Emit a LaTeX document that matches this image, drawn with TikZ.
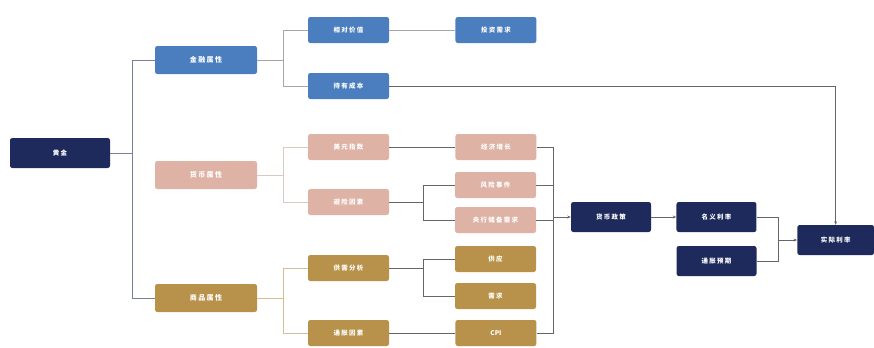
\documentclass[tikz,border=0pt]{standalone}
\usepackage{fontspec}
\newfontfamily\cjk[LetterSpace=20]{Noto Sans CJK SC}
\newfontfamily\latn{Noto Sans CJK SC}
\usepackage{tikz}
\usetikzlibrary{
    arrows.meta,
    positioning,
    calc
}
\usepackage{xcolor}
\definecolor{navy}{HTML}{1F2A5C}
\definecolor{finblue}{HTML}{4A7EBF}
\definecolor{monpink}{HTML}{DFB2A6}
\definecolor{comgold}{HTML}{B8924A}
\tikzstyle{box} = [
    rectangle,
    rounded corners=2pt,
    draw=none,
    text=white,
    text width=2.43cm,
    minimum height=0.78cm,
    text centered,
    inner sep=0pt,
    font=\cjk\fontsize{5.5}{6.5}\selectfont\bfseries
]
\tikzstyle{attr} = [
    box,
    text width=3.06cm,
    minimum height=0.84cm,
    font=\cjk\fontsize{6}{7}\selectfont\bfseries
]
\tikzstyle{finbox} = [box, fill=finblue]
\tikzstyle{monbox} = [box, fill=monpink]
\tikzstyle{combox} = [box, fill=comgold]
\tikzstyle{rate} = [box, fill=navy, text width=2.4cm, minimum height=0.9cm]
\tikzstyle{trunk} = [line width=0.8pt, draw=navy!60]
\tikzstyle{finline} = [line width=0.6pt, draw=gray!70]
\tikzstyle{monline} = [line width=0.6pt, draw=monpink!70!gray!60]
\tikzstyle{comline} = [line width=0.6pt, draw=comgold!60!white]
\tikzstyle{link} = [line width=0.6pt, draw=gray!80!black]
\tikzstyle{arrow} = [
    -{Stealth[length=3pt,width=2.5pt]},
    line width=0.6pt,
    draw=gray!80!black
]

\begin{document}
\begin{tikzpicture}
        \useasboundingbox (0,0) rectangle (26.22,-10.41);
        % root and attributes
        \node[rate, text width=3cm] (gold) at (1.8,-4.59) {黄金};
        \node[attr, fill=finblue] (fin) at (6.18,-1.8) {金融属性};
        \node[attr, fill=monpink] (mon) at (6.18,-5.25) {货币属性};
        \node[attr, fill=comgold] (com) at (6.18,-8.94) {商品属性};

        % bracket columns
        \coordinate (c0) at (3.96,0);
        \coordinate (c1) at (8.49,0);
        \coordinate (c2) at (12.69,0);
        \coordinate (c3) at (16.59,0);
        \coordinate (c4) at (23.34,0);

        \draw[trunk] (fin.west) -| (c0 |- com) -- (com.west);
        \draw[trunk] (gold.east) -- (gold -| c0);

        % financial branch
        \node[finbox] (relval) at (10.455,-0.9) {相对价值};
        \node[finbox, right=1.98cm of relval] (invest) {投资需求};
        \node[finbox] (hold) at (10.455,-2.58) {持有成本};

        \draw[finline] (fin.east) -- (fin -| c1);
        \draw[finline] (relval.west) -| (c1 |- hold) -- (hold.west);
        \draw[finline] (relval) -- (invest);

        % monetary branch
        \node[monbox] (usd) at (10.455,-4.41) {美元指数};
        \node[monbox, right=1.98cm of usd] (growth) {经济增长};
        \node[monbox] (haven) at (10.455,-6.06) {避险因素};
        \node[monbox] (risk) at (14.865,-5.55) {风险事件};
        \node[monbox] (reserve) at (14.865,-6.6) {央行储备需求};

        \draw[monline] (mon.east) -- (mon -| c1);
        \draw[monline] (usd.west) -| (c1 |- haven) -- (haven.west);
        \draw[link] (usd) -- (growth);
        \draw[link] (haven.east) -- (haven -| c2);
        \draw[link] (risk.west) -| (c2 |- reserve) -- (reserve.west);

        % commodity branch
        \node[combox] (supdem) at (10.455,-8.04) {供需分析};
        \node[combox] (infl) at (10.455,-9.99) {通胀因素};
        \node[combox] (supply) at (14.865,-7.77) {供应};
        \node[combox] (demand) at (14.865,-8.88) {需求};
        \node[combox, right=1.98cm of infl] (cpi) {\latn\bfseries CPI};

        \draw[comline] (com.east) -- (com -| c1);
        \draw[comline] (supdem.west) -| (c1 |- infl) -- (infl.west);
        \draw[link] (supdem.east) -- (supdem -| c2);
        \draw[link] (supply.west) -| (c2 |- demand) -- (demand.west);
        \draw[link] (infl) -- (cpi);

        % rates
        \node[rate] (policy) at (18.33,-6.51) {货币政策};
        \node[rate, right=0.75cm of policy] (nominal) {名义利率};
        \node[rate] (expect) at (21.495,-7.83) {通胀预期};
        \node[rate, text width=2.3cm] (real) at (25.07,-7.2) {实际利率};

        \draw[link] (growth.east) -| (c3 |- cpi) -- (cpi.east);
        \draw[link] (risk.east) -- (risk -| c3);
        \draw[link] (reserve.east) -- (reserve -| c3);
        \draw[arrow] (policy -| c3) -- (policy.west);
        \draw[arrow] (policy) -- (nominal);
        \draw[link] (nominal.east) -| (c4 |- expect) -- (expect.east);
        \draw[arrow] (real -| c4) -- (real.west);
        \draw[arrow] (hold.east) -| (real.north);
    \end{tikzpicture}
\end{document}
